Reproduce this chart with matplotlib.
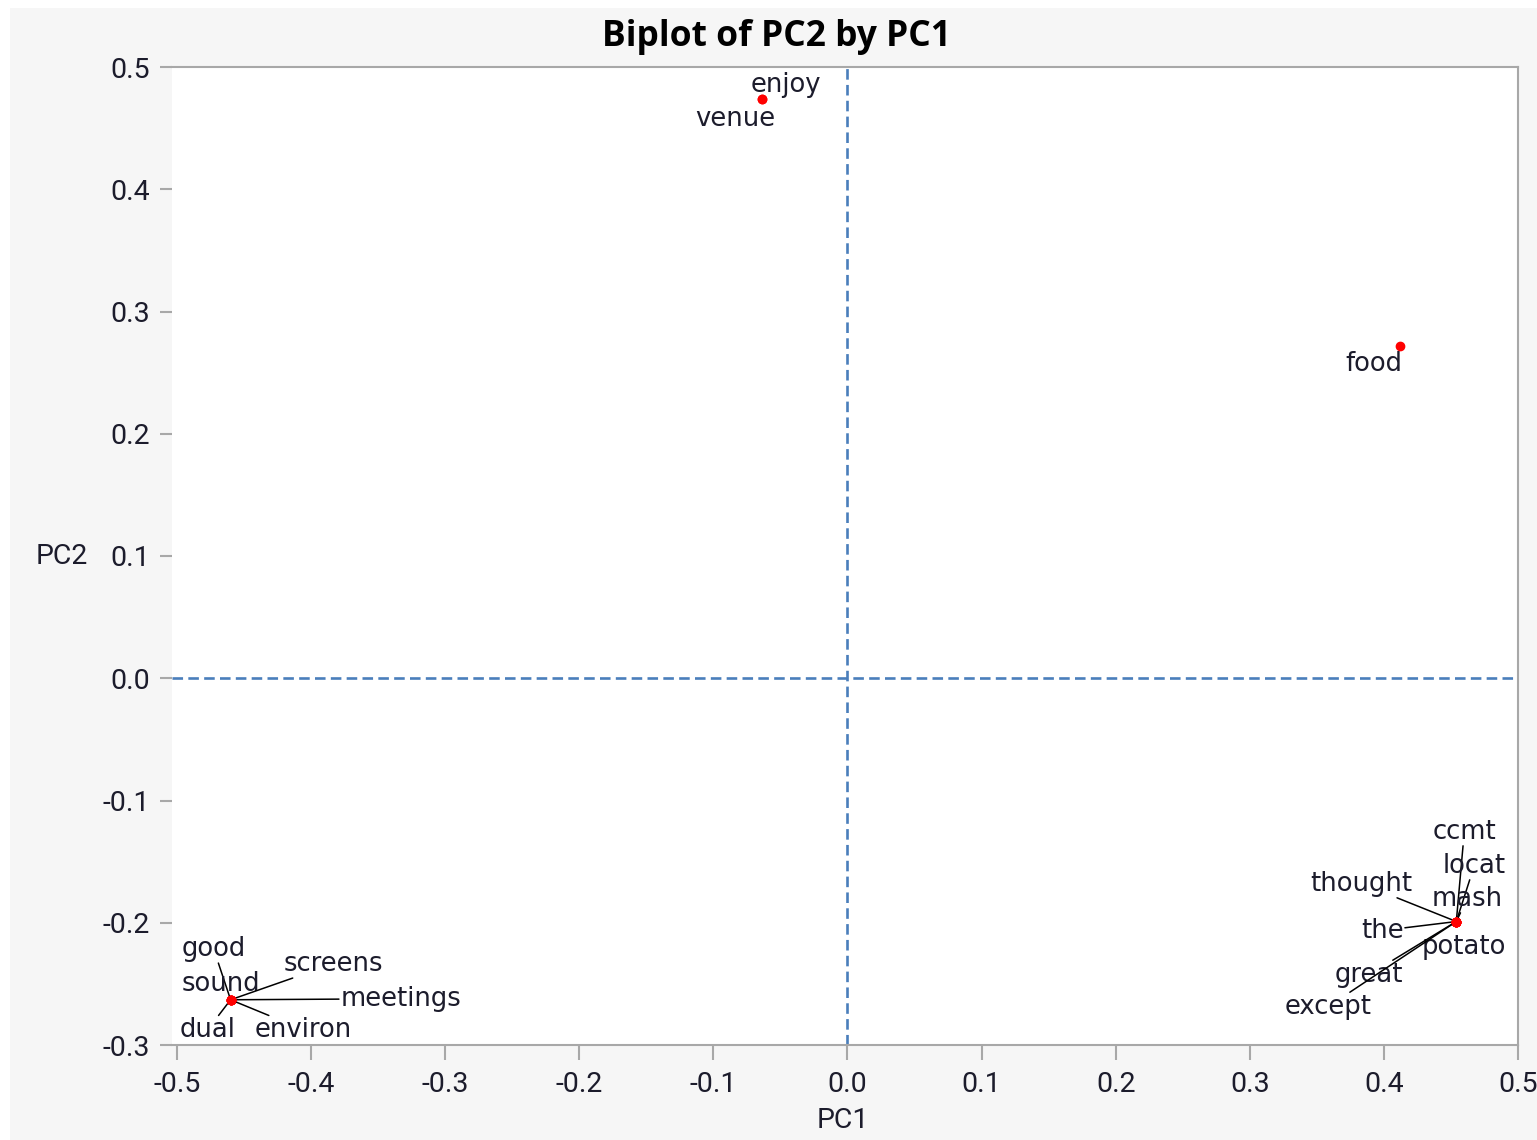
import matplotlib
matplotlib.use("Agg")
import matplotlib.pyplot as plt
from matplotlib.patches import Rectangle
from matplotlib.ticker import FuncFormatter

# term loadings
words = ['enjoy', 'venue', 'food',
         'ccmt', 'locat', 'mash', 'thought', 'the', 'potato', 'great', 'except',
         'good', 'sound', 'screens', 'meetings', 'environ', 'dual']
pc1 = [-0.064, -0.064, 0.412,
       0.454, 0.454, 0.454, 0.454, 0.454, 0.454, 0.454, 0.454,
       -0.460, -0.460, -0.460, -0.460, -0.460, -0.460]
pc2 = [0.474, 0.474, 0.272,
       -0.199, -0.199, -0.199, -0.199, -0.199, -0.199, -0.199, -0.199,
       -0.263, -0.263, -0.263, -0.263, -0.263, -0.263]

xticks = [-0.5, -0.4, -0.3, -0.2, -0.1, 0.0, 0.1, 0.2, 0.3, 0.4, 0.5]
yticks = [-0.3, -0.2, -0.1, 0.0, 0.1, 0.2, 0.3, 0.4, 0.5]

# label placement (pixels from the point, +y is down on screen) and leader lines
label_off = {
    'enjoy': (24, -14), 'venue': (-26, 20), 'food': (-26, 18),
    'ccmt': (8, -90), 'locat': (18, -56), 'mash': (11, -23),
    'thought': (-95, -38), 'the': (-74, 9), 'potato': (8, 25),
    'great': (-87, 53), 'except': (-128, 85),
    'good': (-17, -51), 'sound': (-10, -16), 'screens': (103, -36),
    'meetings': (170, -1), 'environ': (73, 30), 'dual': (-23, 30),
}
no_leader = ['enjoy', 'venue', 'food', 'potato']

W, H = 1537, 1140
fig = plt.figure(figsize=(W / 100, H / 100), dpi=100, facecolor='white')
fig.patches.append(Rectangle((10 / W, 0), 1 - 10 / W, 1 - 8 / H,
                             transform=fig.transFigure, fc='#f6f6f6', ec='none', zorder=-10))

ax = fig.add_axes([172 / W, 1 - 1045 / H, (1518 - 172) / W, (1045 - 67) / H])
ax.set_facecolor('white')
ax.set_xlim(-0.5037, 0.5)
ax.set_ylim(-0.3, 0.5)

dash_col = '#4a7ebb'
ax.axvline(0, color=dash_col, lw=1.9, dashes=(4, 2), zorder=1)
ax.axhline(0, color=dash_col, lw=1.9, dashes=(4, 2), zorder=1)

ax.plot(pc1, pc2, 'o', color='red', markersize=6, zorder=4)

for w, x, y in zip(words, pc1, pc2):
    dx, dy = label_off[w]
    arrow = None
    if w not in no_leader:
        arrow = dict(arrowstyle='-', color='black', lw=1.1, shrinkA=0, shrinkB=0)
    ax.annotate(w, xy=(x, y), xytext=(dx, -dy), textcoords='offset pixels',
                ha='center', va='center', fontsize=18.6, color='#1c1c2c',
                family='DejaVu Sans', arrowprops=arrow, zorder=3,
                bbox=dict(boxstyle='square,pad=0.05', fc='none', ec='none'))

for s in ['top', 'right', 'bottom']:
    ax.spines[s].set_color('#a8a8a8')
    ax.spines[s].set_linewidth(1.5)
ax.spines['left'].set_visible(False)

ax.set_xticks(xticks)
ax.set_yticks(yticks)
fmt = FuncFormatter(lambda v, p: ('%.1f' % v).replace('\u2212', '-'))
ax.xaxis.set_major_formatter(fmt)
ax.yaxis.set_major_formatter(fmt)
ax.tick_params(axis='x', length=11, width=1.5, color='#a8a8a8', pad=8,
               labelsize=20.5, labelcolor='#1c1c2c')
ax.tick_params(axis='y', length=9, width=1.5, color='#a8a8a8', pad=7,
               labelsize=20.5, labelcolor='#1c1c2c')
for lab in ax.get_xticklabels() + ax.get_yticklabels():
    lab.set_family('Roboto')

ax.set_xlabel('PC1', fontsize=20.5, family='Roboto', color='#1c1c2c', va='center')
ax.xaxis.set_label_coords((843 - 172) / 1346, (1045 - 1120) / 978)
ax.set_ylabel('PC2', fontsize=20.5, family='Roboto', color='#1c1c2c',
              rotation=0, va='center', ha='center')
ax.yaxis.set_label_coords((62 - 172) / 1346, (1045 - 556) / 978)

fig.text(777 / W, 1 - 37 / H, 'Biplot of PC2 by PC1', ha='center', va='center',
         fontsize=25.5, fontweight='bold', family='Open Sans', color='black')

fig.savefig('out.png', dpi=100, facecolor=fig.get_facecolor())
